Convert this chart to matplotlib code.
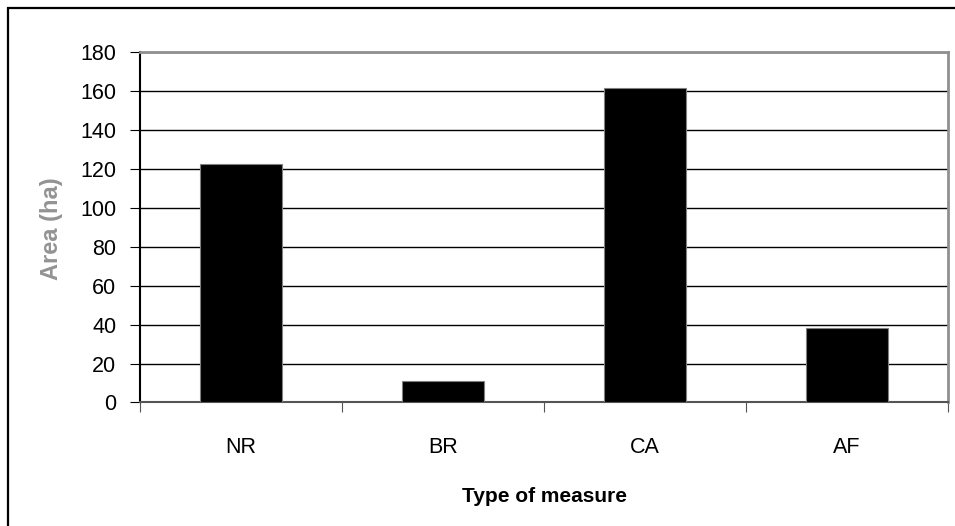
import numpy as np
import matplotlib.pyplot as plt
from matplotlib.patches import Rectangle

categories = ['NR', 'BR', 'CA', 'AF']
area = [122.5, 11, 161.5, 38.5]
y_ticks = [0, 20, 40, 60, 80, 100, 120, 140, 160, 180]

plt.rcParams['font.family'] = ['Liberation Sans', 'DejaVu Sans']

fig = plt.figure(figsize=(9.55, 5.26), dpi=100)
ax = fig.add_axes([0.1466, 0.2348, 0.8461, 0.6663])

x = np.arange(len(categories))
ax.bar(x, area, width=0.41, color='black', edgecolor='#808080', linewidth=0.8, zorder=3)

ax.set_xlim(-0.5, len(categories) - 0.5)
ax.set_ylim(0, 180)
ax.set_yticks(y_ticks)
ax.yaxis.grid(True, color='black', linewidth=1.0, zorder=0)

# category labels centred, ticks on category boundaries
ax.set_xticks(np.arange(len(categories) + 1) - 0.5)
ax.set_xticklabels([])
ax.set_xticks(x, minor=True)
ax.set_xticklabels(categories, minor=True, fontsize=15.5)
ax.tick_params(axis='x', which='minor', length=0, pad=25)
ax.tick_params(axis='x', which='major', length=7, direction='out', color='#555555')
ax.tick_params(axis='y', length=7, direction='out', labelsize=15.5, pad=10, color='black')

ax.spines['top'].set_color('#909090')
ax.spines['right'].set_color('#909090')
ax.spines['top'].set_linewidth(2)
ax.spines['right'].set_linewidth(2)
ax.spines['left'].set_color('black')
ax.spines['bottom'].set_color('#555555')
ax.spines['left'].set_linewidth(1.5)
ax.spines['bottom'].set_linewidth(1.5)

ax.set_xlabel('Type of measure', fontsize=15, fontweight='bold', labelpad=21)
fig.text(0.054, 0.565, 'Area (ha)', rotation=90, ha='center', va='center',
         fontsize=17, fontweight='bold', color='#939393')

# outer chart frame
fig.patches.append(Rectangle((8 / 955, -0.1), 1.2, 1.1 - 8 / 526, transform=fig.transFigure,
                             fill=False, edgecolor='black', linewidth=1.6))

fig.savefig('out.png', dpi=100)
